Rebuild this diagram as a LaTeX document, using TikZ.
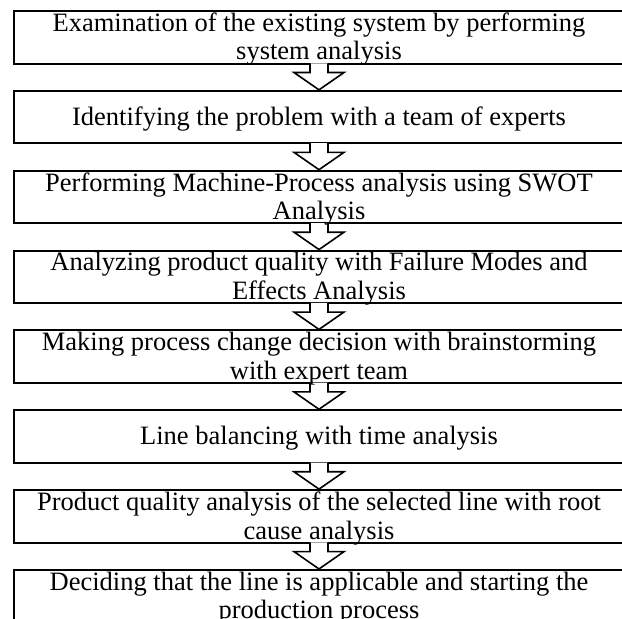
\documentclass[tikz,border=0pt]{standalone}
\usepackage{fontspec}
\setmainfont{Liberation Serif}
\usetikzlibrary{calc}
\begin{document}
\begin{tikzpicture}[x=1pt,y=-1pt,
  stepbox/.style={draw=black, line width=2pt, minimum width=611pt, minimum height=52.5pt, inner sep=0pt, fill=white},
  steptext/.style={font=\fontsize{26.5}{28.5}\selectfont, align=center, inner sep=0pt, yshift=-2pt},
  flowarrow/.style={draw=black, line width=1.6pt, fill=white, line join=miter}]
\useasboundingbox (0,0) rectangle (622,619);
% boxes
\node[stepbox] (b1) at (319,37.25) {};
\node[stepbox] (b2) at (319,117.1) {};
\node[stepbox] (b3) at (319,196.95) {};
\node[stepbox] (b4) at (319,276.8) {};
\node[stepbox] (b5) at (319,356.65) {};
\node[stepbox] (b6) at (319,436.5) {};
\node[stepbox] (b7) at (319,516.35) {};
\node[stepbox] (b8) at (319,596.2) {};
% arrows
\foreach \a/\b in {b1/b2,b2/b3,b3/b4,b4/b5,b5/b6,b6/b7,b7/b8}{
  \draw[flowarrow] ($(\a.south)+(-9,-1.2)$) -- ($(\a.south)+(-9,8)$) -- ($(\a.south)+(-25,8)$)
    -- (\b.north) -- ($(\a.south)+(25,8)$) -- ($(\a.south)+(9,8)$) -- ($(\a.south)+(9,-1.2)$);
}
% texts
\node[steptext] (t1) at (b1.center) {Examination of the existing system by performing\\system analysis};
\node[steptext] (t2) at (b2.center) {Identifying the problem with a team of experts};
\node[steptext] (t3) at (b3.center) {Performing Machine-Process analysis using SWOT\\Analysis};
\node[steptext] (t4) at (b4.center) {Analyzing product quality with Failure Modes and\\Effects Analysis};
\node[steptext] (t5) at (b5.center) {Making process change decision with brainstorming\\with expert team};
\node[steptext] (t6) at (b6.center) {Line balancing with time analysis};
\node[steptext] (t7) at (b7.center) {Product quality analysis of the selected line with root\\cause analysis};
\node[steptext] (t8) at (b8.center) {Deciding that the line is applicable and starting the\\production process};
\end{tikzpicture}
\end{document}
